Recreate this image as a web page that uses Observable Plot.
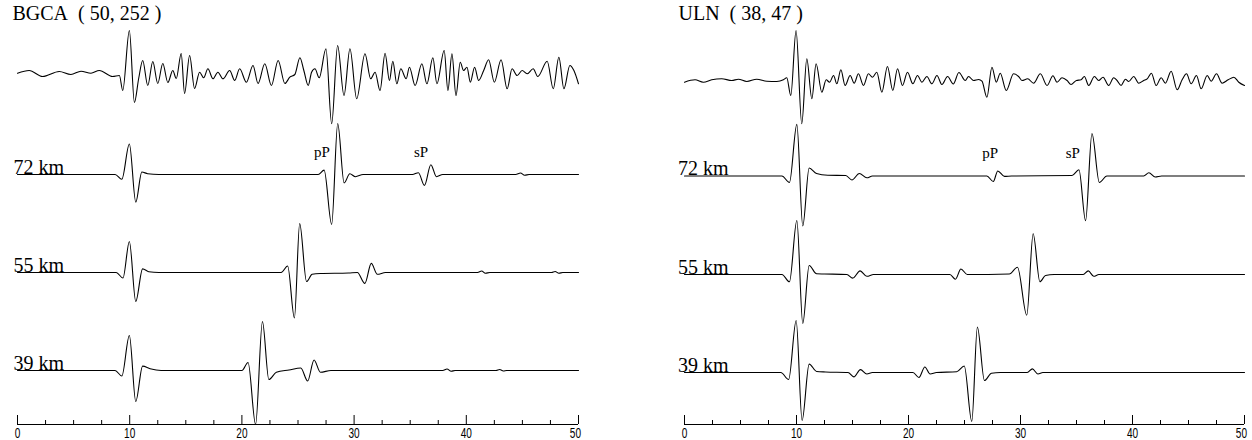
<!DOCTYPE html>
<html><head><meta charset="utf-8">
<script src="https://cdn.jsdelivr.net/npm/d3@7"></script>
<script src="https://cdn.jsdelivr.net/npm/@observablehq/plot@0.6"></script>
<style>
body{margin:0;background:#fff;}
#wrap{display:flex;width:1252px;height:440px;overflow:hidden;}
</style></head><body><div id="wrap"></div>
<script>
// ---------- data ----------
const stations = ["BGCA\u00A0\u00A0( 50, 252 )", "ULN\u00A0\u00A0( 38, 47 )"];
const depths = ["72 km", "55 km", "39 km"];
const phaseNames = ["pP", "sP"];
const phaseTimesL = [27.13, 35.97];
const phaseTimesR = [27.29, 34.67];
const majorTicks = [0, 10, 20, 30, 40, 50];
const minorTicks = [2.5, 5, 7.5, 12.5, 15, 17.5, 22.5, 25, 27.5, 32.5, 35, 37.5, 42.5, 45, 47.5];

// observed seismograms [time s, amplitude]
const obsBGCA = [[0,0.3],[1.04,3],[2.23,-3],[3.72,2],[4.76,-1],[5.66,2.3],[6.55,0.3],[7.29,3],[8.48,-3],[9.08,-2],
[9.38,-17],[9.97,43],[10.42,-29],[10.8,-5],[11.16,13],[11.61,-12],[12.06,12],[12.5,-10],[12.95,10],[13.4,-9],
[13.84,3],[14.15,-5],[14.59,20],[14.89,-20],[15.34,18],[15.78,-15],[16.23,1.3],[16.59,-4.3],[16.97,4.7],[17.42,-5.3],
[17.86,1.3],[18.31,-5.3],[18.91,3],[19.36,-7],[19.8,4.7],[20.4,-8.7],[20.99,8],[21.44,-10],[22.04,9.7],[22.63,-12],
[23.23,13],[23.83,-10],[24.27,-3.7],[24.72,-1],[25.17,15.7],[25.52,3],[25.91,-12],[26.21,1.3],[26.51,4.7],[26.89,-4.3],
[27.49,24.7],[28.0,-50.3],[28.53,28],[29.1,-22],[29.63,24.7],[30.23,-25.3],[30.97,19.7],[31.48,-5.3],[31.87,1.3],[32.31,-17],
[32.76,20.3],[33.15,-7],[33.45,12.3],[33.81,-10.3],[34.16,4.7],[34.64,-5.3],[34.93,6.3],[35.44,-12],[36.04,9.7],[36.49,-10.3],
[37.02,15.7],[37.38,-10.3],[38.03,23],[38.36,-17],[38.72,19.7],[39.08,-22],[39.46,11.3],[39.76,3],[40.06,6.3],[40.36,-8.7],
[40.74,6.3],[41.1,-7],[41.55,3],[41.99,13.7],[42.5,-8.7],[43.1,13.7],[43.64,-15.3],[44.08,4.7],[44.53,-2],[44.98,3],
[45.42,-0.3],[45.96,4.7],[46.37,-3],[47.21,12.3],[47.75,-15.3],[48.25,16.3],[48.7,-15.3],[49.23,8],[49.59,3],[50,-10.3]];

const obsULN = [[0,-1.7],[0.94,0.7],[1.68,-1.7],[2.43,0.7],[3.32,1.7],[4.22,0],[4.81,1.3],[5.56,-1],[6.45,1.3],[7.35,-0.7],
[8.24,-1],[8.83,0.7],[9.13,2.7],[9.49,-15],[9.96,50],[10.47,-43.3],[10.92,21.7],[11.37,-18.3],[11.75,16.7],[12.26,-11.7],
[12.65,0.7],[12.95,-1.7],[13.31,5],[13.6,-3.3],[13.96,10.7],[14.34,-5],[14.79,5],[15.15,-2.7],[15.53,6.7],[15.98,-5],
[16.42,6.7],[16.78,3.3],[17.17,8.3],[17.62,-11.7],[18.12,14],[18.6,-10],[19.02,11.7],[19.46,-5],[19.91,8.3],[20.39,-3.3],
[20.8,5],[21.2,-1.7],[21.64,4],[22.09,-3.3],[22.54,5],[22.98,-4],[23.49,4],[24.0,-3.5],[24.5,8],[25.07,0],
[25.36,4],[25.81,0],[26.26,1],[26.56,-0.7],[27.0,-16.7],[27.45,13.3],[27.84,-1.7],[28.19,7.3],[28.73,-10],[29.38,6.7],
[29.83,4],[30.13,0],[30.64,1.7],[31.17,-2.7],[31.77,6.7],[32.37,-5],[32.9,4.7],[33.26,-1.7],[33.71,2.7],[34.16,0],
[34.51,-4],[34.99,0],[35.41,0.7],[35.7,4],[36.09,-5],[36.6,4],[36.98,0],[37.37,3.3],[37.87,-5],[38.32,2.7],
[38.62,0],[38.98,-5],[39.37,1.3],[39.66,-1],[40.11,4],[40.55,-2.7],[41.0,0],[41.31,1.7],[41.69,7.3],[42.11,-5],
[42.56,2.7],[42.94,-2.7],[43.45,9.3],[43.99,-9.3],[44.43,0.7],[44.82,6.7],[45.24,-3.3],[45.71,5],[46.13,-8.3],[46.67,5],
[47.02,-0.7],[47.5,6.7],[48.0,-2.7],[48.54,0.7],[49.05,3.3],[49.49,-1.7],[50,-5]];

// synthetic seismograms [time s, amplitude]
const synBGCA72 = [[0,0],[8.7,0],[9.3,-4.7],[9.97,30.5],[10.54,-27.6],[11.08,2.5],[11.6,0.8],[12.6,0],
[26.8,0],[27.33,4.4],[28.0,-50],[28.54,51],[29.11,-8.4],[29.62,0.7],[30.12,-2.2],[30.8,0],
[35.2,0],[35.73,1.8],[36.27,-10.9],[36.84,9.8],[37.34,-2.2],[37.9,0],
[44.4,0],[44.83,1.5],[45.2,-0.7],[45.6,0],[50,0]];
const synBGCA55 = [[0,0],[8.8,0],[9.4,-5.5],[9.97,31],[10.54,-29],[11.15,3.6],[11.7,0.8],[12.6,0],
[23.5,0],[24.08,6.5],[24.68,-45.5],[25.15,49],[25.76,-9],[26.26,-1.8],[27,-1],[29.5,-0.5],[30.29,0],[30.96,-10.9],[31.53,9.1],[32.07,-1.8],[32.8,0],
[41.0,0],[41.37,1.5],[41.7,-0.8],[42.1,0],[47.6,0],[47.92,1],[48.25,-0.7],[48.6,0],[50,0]];
const synBGCA39 = [[0,0],[8.7,0],[9.3,-5.5],[9.97,35],[10.54,-31],[11.15,4.4],[11.82,1.8],[12.8,0],
[20.0,0],[20.55,8],[21.22,-54],[21.83,49],[22.4,-9],[23.07,-1.8],[24.2,0.5],[25.25,2.5],[25.86,-10.5],[26.43,10.5],[27.0,-1.8],[27.94,0],
[37.9,0],[38.28,1.5],[38.65,-0.8],[39.0,0],[42.65,0],[42.98,1],[43.3,-0.5],[43.6,0],[50,0]];
const synULN72 = [[0,0],[8.7,0],[9.37,-6.5],[10.03,51.6],[10.56,-50],[11.13,8],[11.79,2.5],[12.8,0.8],[14.4,0.5],[14.95,-4],[15.61,2.5],[16.28,-1.8],[16.78,0],
[27.0,0],[27.57,-5.5],[27.97,5],[28.57,-0.4],[29.2,0],
[34.6,0.5],[35.22,6.2],[35.81,-44.7],[36.38,42.5],[37.04,-6.5],[37.71,0],
[41.0,0],[41.46,3.3],[42.03,-1],[42.6,0],[50,0]];
const synULN55 = [[0,0],[8.7,0],[9.37,-7.3],[10.03,54],[10.56,-49],[11.13,9],[11.79,0.7],[12.5,0.5],[14.5,0],[15.02,-3.6],[15.68,3.6],[16.28,-1.8],[16.88,0],
[23.7,0],[24.19,-4.7],[24.68,5.5],[25.25,0],
[29.0,0.5],[29.73,7.3],[30.56,-40.7],[31.13,40.7],[31.73,-7.3],[32.23,-1],[33,0],
[35.6,0],[36.05,3.6],[36.54,-1.8],[37.0,0],[50,0]];
const synULN39 = [[0,0],[8.6,0],[9.3,-7],[9.97,52],[10.5,-48],[11.13,8.4],[11.8,1],[12.6,0.5],[14.6,0],[15.12,-4.4],[15.71,2.9],[16.28,-1.5],[16.78,0],
[20.4,0],[20.93,-5],[21.46,5.5],[21.93,-1.5],[22.5,0],
[24.3,0.8],[24.98,6.5],[25.65,-49],[26.15,45.5],[26.78,-8],[27.41,-0.7],[28.2,0],
[30.6,0],[31.06,3.6],[31.56,-1.5],[32.0,0],[50,0]];

// ---------- layout ----------
const SERIF = "'Liberation Serif','Times New Roman',Times,serif";
const AX = -424;       // axis level (scale units = px below top)
const CHAR_W = 5.6;    // squeezed width of a tick-label digit
const panels = [
  {title: stations[0], traces: [obsBGCA, synBGCA72, synBGCA55, synBGCA39], base: [73, 174, 272, 370],
   ml: 17, mr: 48, phases: phaseTimesL, titleDx: -5, labelDx: -4},
  {title: stations[1], traces: [obsULN, synULN72, synULN55, synULN39], base: [80, 175.5, 274, 372],
   ml: 58, mr: 8, phases: phaseTimesR, titleDx: -6, labelDx: -6.5}
];

function drawPanel(p) {
  const rows = [];
  p.traces.forEach((tr, k) => { for (const [t, a] of tr) rows.push({k, t, v: -p.base[k] + a}); });
  const phaseRows = phaseNames.map((n, i) => ({n, t: p.phases[i]}));
  const last = majorTicks[majorTicks.length - 1];
  const tickFont = {fontSize: 15, fontFamily: "'Liberation Sans Narrow','Liberation Sans',Arial,sans-serif", fill: "#000"};
  return Plot.plot({
    width: 626, height: 440,
    marginLeft: p.ml, marginRight: p.mr, marginTop: 0, marginBottom: 0,
    x: {domain: [0, 50], axis: null},
    y: {domain: [-440, 0], axis: null},
    style: {background: "transparent", overflow: "visible"},
    marks: [
      Plot.line(rows, {x: "t", y: "v", z: "k", curve: "monotone-x", stroke: "#000", strokeWidth: 1.1}),
      Plot.ruleY([AX], {x1: 0, x2: 50, stroke: "#000", strokeWidth: 1}),
      Plot.ruleX(majorTicks, {x: d => d, y1: AX, y2: AX + 9, stroke: "#000", strokeWidth: 1}),
      Plot.ruleX(minorTicks, {x: d => d, y1: AX, y2: AX + 4, stroke: "#000", strokeWidth: 1}),
      Plot.text(majorTicks.filter(d => d !== last), {x: d => d, y: AX, dy: 13.5, text: d => String(d), lineAnchor: "bottom", ...tickFont}),
      Plot.text([last], {x: d => d, y: AX, dy: 13.5, dx: 2.5, text: d => String(d),
        textAnchor: "end", lineAnchor: "bottom", ...tickFont}),
      Plot.text([p.title], {x: 0, y: -19, dx: p.titleDx, text: d => d, textAnchor: "start", lineAnchor: "bottom",
        fontSize: 20, fontFamily: SERIF, fill: "#000"}),
      Plot.text(depths, {x: 0, y: (d, i) => -p.base[i + 1] + 1, dx: p.labelDx, text: d => d, textAnchor: "start",
        lineAnchor: "bottom", fontSize: 20, fontFamily: SERIF, fill: "#000"}),
      Plot.text(phaseRows, {x: "t", y: () => -p.base[1] + 18, text: "n", lineAnchor: "bottom",
        fontSize: 15, fontFamily: SERIF, fill: "#000"})
    ]
  });
}

const wrap = document.getElementById("wrap");
for (const p of panels) {
  const svg = drawPanel(p);
  svg.querySelectorAll("text").forEach(t => {
    const s = t.textContent.trim();
    if (/^\d+$/.test(s)) {
      t.setAttribute("textLength", String(s.length * CHAR_W));
      t.setAttribute("lengthAdjust", "spacingAndGlyphs");
    }
  });
  wrap.appendChild(svg);
}
</script></body></html>
